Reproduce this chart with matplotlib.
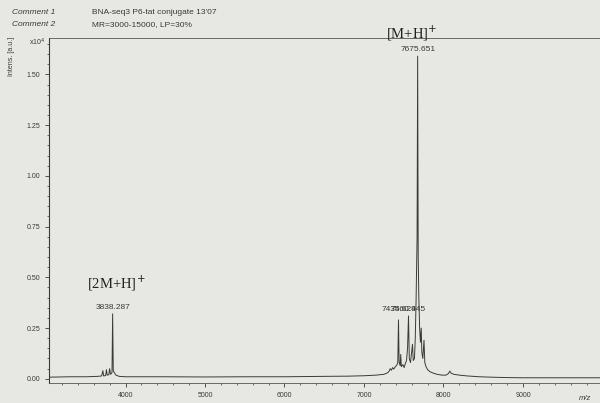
import matplotlib.pyplot as plt
from matplotlib.ticker import MultipleLocator, FormatStrFormatter

# spectrum profile (m/z, intensity in units of 1e4 a.u.)
mz = [3040, 3300, 3500, 3650, 3700, 3715, 3725, 3750, 3760, 3770, 3790, 3800,
      3812, 3830, 3838, 3846, 3860, 3880, 3920, 4000, 4500, 5000, 5500, 6000,
      6500, 6800, 7000, 7150, 7250, 7300, 7320, 7330, 7345, 7360, 7375, 7395,
      7410, 7425, 7434, 7442, 7455, 7462, 7470, 7490, 7505, 7520, 7535, 7548,
      7560, 7570, 7585, 7610, 7620, 7635, 7645, 7655, 7662, 7668, 7675, 7682,
      7690, 7700, 7710, 7720, 7728, 7740, 7755, 7765, 7780, 7800, 7830, 7870,
      7920, 7980, 8030, 8060, 8080, 8095, 8130, 8200, 8300, 8450, 8600, 8800,
      9000, 9500, 9969]
inten = [0.008, 0.010, 0.010, 0.012, 0.014, 0.040, 0.014, 0.016, 0.045, 0.018,
         0.020, 0.050, 0.022, 0.030, 0.320, 0.040, 0.030, 0.018, 0.012, 0.010,
         0.010, 0.009, 0.010, 0.010, 0.012, 0.013, 0.015, 0.018, 0.022, 0.030,
         0.040, 0.050, 0.042, 0.055, 0.048, 0.060, 0.065, 0.080, 0.290, 0.080,
         0.065, 0.120, 0.060, 0.070, 0.055, 0.075, 0.090, 0.150, 0.310, 0.100,
         0.080, 0.170, 0.090, 0.100, 0.200, 0.380, 0.550, 0.700, 1.590, 0.600,
         0.400, 0.250, 0.180, 0.250, 0.130, 0.100, 0.190, 0.080, 0.060, 0.045,
         0.035, 0.028, 0.022, 0.018, 0.018, 0.025, 0.038, 0.028, 0.022, 0.018,
         0.014, 0.010, 0.008, 0.006, 0.005, 0.005, 0.005]

peak_mz = [3838, 7434, 7560, 7675]
peak_int = [0.320, 0.310, 0.310, 1.590]
peak_text = ["3838.287", "7434.624", "7560.945", "7675.651"]

bg = "#e7e7e3"
ink = "#3a3a3a"

fig = plt.figure(figsize=(6.0, 4.03), dpi=100, facecolor=bg)
ax = fig.add_axes([0.082, 0.05, 0.918, 0.856], facecolor=bg)

ax.plot(mz, inten, color=ink, lw=0.7)

for x, y, t in zip(peak_mz, peak_int, peak_text):
    ax.text(x, y + 0.015, t, ha="center", va="bottom", fontsize=6,
            family="Liberation Sans", color=ink)

ax.text(3838 - 320, 0.47, "[2M+H]$^{+}$", fontsize=10.5, family="Liberation Serif",
        color="#222222", ha="left", va="center")
ax.text(7675 - 80, 1.70, "[M+H]$^{+}$", fontsize=10.5, family="Liberation Serif",
        color="#222222", ha="center", va="center", clip_on=False)

ax.set_xlim(3040, 9969)
ax.set_ylim(-0.02, 1.68)
ax.xaxis.set_major_locator(MultipleLocator(1000))
ax.xaxis.set_minor_locator(MultipleLocator(200))
ax.yaxis.set_major_locator(MultipleLocator(0.25))
ax.yaxis.set_minor_locator(MultipleLocator(0.05))
ax.yaxis.set_major_formatter(FormatStrFormatter("%.2f"))
ax.tick_params(labelsize=5, colors=ink, length=3, width=0.6)
ax.tick_params(which="minor", length=1.5, width=0.5, colors=ink)
for lab in ax.get_xticklabels() + ax.get_yticklabels():
    lab.set_family("Liberation Sans")

ax.spines["right"].set_visible(False)
ax.spines["left"].set_color(ink)
ax.spines["left"].set_linewidth(0.8)
ax.spines["bottom"].set_color("#555555")
ax.spines["bottom"].set_linewidth(0.6)
ax.spines["bottom"].set_linestyle((0, (4, 1)))
ax.spines["top"].set_color("#555555")
ax.spines["top"].set_linewidth(0.6)
ax.spines["top"].set_linestyle((0, (4, 1)))

txt = dict(fontsize=6, family="Liberation Sans", color=ink)
fig.text(0.02, 0.97, "Comment 1", style="italic", va="center", **txt)
fig.text(0.153, 0.97, "BNA-seq3 P6-tat conjugate 13'07", va="center", **txt)
fig.text(0.02, 0.94, "Comment 2", style="italic", va="center", **txt)
fig.text(0.153, 0.94, "MR=3000-15000, LP=30%", va="center", **txt)
fig.text(0.048, 0.896, "x10$^4$", ha="left", va="center", fontsize=5,
         family="Liberation Sans", color=ink)
fig.text(0.02, 0.908, "Intens. [a.u.]", rotation=90, ha="center", va="top",
         fontsize=5, family="Liberation Sans", color=ink)
fig.text(0.985, 0.012, "m/z", ha="right", va="center", style="italic",
         fontsize=5.5, family="Liberation Sans", color=ink)

fig.savefig("out.png", dpi=100, facecolor=bg)
